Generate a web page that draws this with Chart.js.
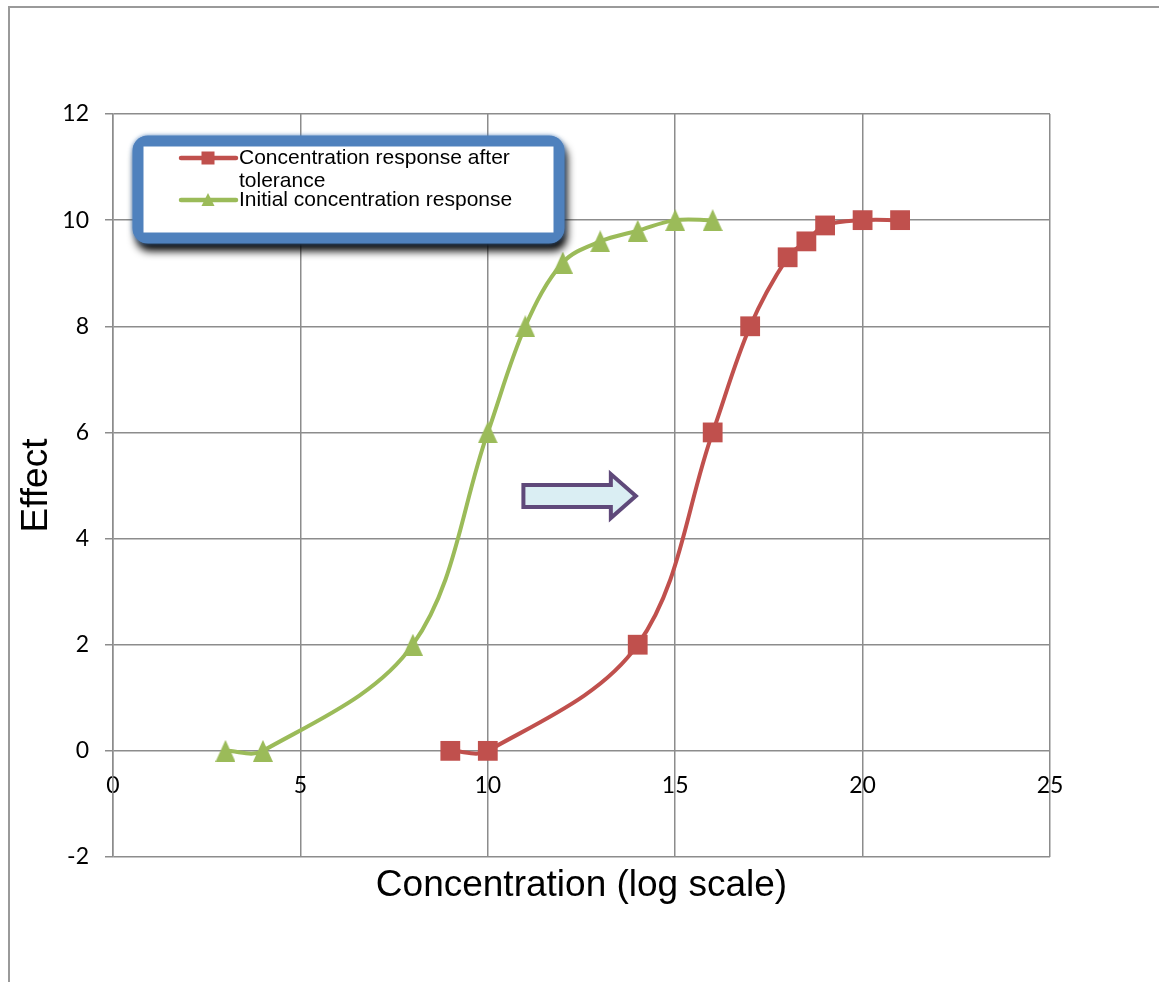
<!DOCTYPE html>
<html>
<head>
<meta charset="utf-8">
<script src="https://cdn.jsdelivr.net/npm/chart.js@4.4.1/dist/chart.umd.min.js"></script>
<style>
  body { margin: 0; background: #fff; }
  canvas { display: block; }
</style>
</head>
<body>
<canvas id="chart" width="1159" height="982"></canvas>
<script>
const seriesLabels = ["Concentration response after tolerance", "Initial concentration response"];
const seriesColors = ["#C0504D", "#9BBB59"];

// after tolerance (red squares)
const afterX = [9, 10, 14, 16, 17, 18, 18.5, 19, 20, 21];
const afterY = [0, 0, 2, 6, 8, 9.3, 9.6, 9.9, 10, 10];

// initial response (green triangles)
const initialX = [3, 4, 8, 10, 11, 12, 13, 14, 15, 16];
const initialY = [0, 0, 2, 6, 8, 9.2, 9.6, 9.8, 10, 10];

const xTicks = [0, 5, 10, 15, 20, 25];
const yTicks = [-2, 0, 2, 4, 6, 8, 10, 12];

// shift arrow (data coords)
const arrowFrom = [10.95, 4.8];
const arrowTo = [13.95, 4.8];

const gridColor = "#8c8c8c";
const tickFont = { family: "Lato", size: 23 };

function toPoints(xs, ys) {
  return xs.map((x, i) => ({ x: x, y: ys[i] }));
}

// excel style triangle marker (box centred)
function triangleMarker(w, h, color) {
  const c = document.createElement("canvas");
  c.width = w;
  c.height = h;
  const g = c.getContext("2d");
  g.fillStyle = color;
  g.beginPath();
  g.moveTo(w / 2, 0);
  g.lineTo(w, h);
  g.lineTo(0, h);
  g.closePath();
  g.fill();
  return c;
}

const extras = {
  id: "extras",
  beforeDraw(chart) {
    const ctx = chart.ctx;
    ctx.save();
    ctx.fillStyle = "#fff";
    ctx.fillRect(0, 0, chart.width, chart.height);
    // outer chart frame
    ctx.strokeStyle = "#9a9a9a";
    ctx.lineWidth = 2;
    ctx.beginPath();
    ctx.moveTo(9, chart.height + 2);
    ctx.lineTo(9, 7);
    ctx.lineTo(chart.width + 2, 7);
    ctx.stroke();
    ctx.restore();
  },
  afterDraw(chart) {
    const ctx = chart.ctx;
    const area = chart.chartArea;
    const xs = chart.scales.x, ys = chart.scales.y;
    ctx.save();

    // axis titles
    ctx.fillStyle = "#000";
    ctx.font = "37px 'Liberation Sans', Arial, sans-serif";
    ctx.textAlign = "center";
    ctx.textBaseline = "middle";
    ctx.fillText("Concentration (log scale)", (area.left + area.right) / 2, 886);
    ctx.save();
    ctx.translate(37, (area.top + area.bottom) / 2);
    ctx.rotate(-Math.PI / 2);
    ctx.fillText("Effect", 0, 0);
    ctx.restore();

    // arrow
    const x0 = xs.getPixelForValue(arrowFrom[0]);
    const x1 = xs.getPixelForValue(arrowTo[0]);
    const yc = ys.getPixelForValue(arrowFrom[1]);
    const headLen = 25, shaftH = 11, headH = 22;
    ctx.beginPath();
    ctx.moveTo(x0, yc - shaftH);
    ctx.lineTo(x1 - headLen, yc - shaftH);
    ctx.lineTo(x1 - headLen, yc - headH);
    ctx.lineTo(x1, yc);
    ctx.lineTo(x1 - headLen, yc + headH);
    ctx.lineTo(x1 - headLen, yc + shaftH);
    ctx.lineTo(x0, yc + shaftH);
    ctx.closePath();
    ctx.fillStyle = "#DAEEF3";
    ctx.fill();
    ctx.strokeStyle = "#5F497A";
    ctx.lineWidth = 4;
    ctx.lineJoin = "miter";
    ctx.stroke();

    // legend box
    const bx = area.left + 25, by = area.top + 27, bw = 421, bh = 97;
    ctx.save();
    ctx.shadowColor = "rgba(0,0,0,1)";
    ctx.shadowBlur = 9;
    ctx.shadowOffsetX = 3;
    ctx.shadowOffsetY = 8;
    ctx.beginPath();
    ctx.roundRect(bx - 5, by - 5, bw + 10, bh + 10, 14);
    ctx.fillStyle = "#4F81BD";
    ctx.fill();
    ctx.restore();
    ctx.save();
    ctx.shadowColor = "rgba(79,129,189,0.9)";
    ctx.shadowBlur = 4;
    ctx.beginPath();
    ctx.roundRect(bx, by, bw, bh, 10);
    ctx.strokeStyle = "#4F81BD";
    ctx.lineWidth = 11;
    ctx.stroke();
    ctx.restore();
    ctx.fillStyle = "#fff";
    ctx.fillRect(bx + 5.5, by + 5.5, bw - 11, bh - 11);

    ctx.font = "21px 'Liberation Sans', Arial, sans-serif";
    ctx.textAlign = "left";
    ctx.textBaseline = "middle";
    const rows = [
      { lines: ["Concentration response after", "tolerance"], y: by + 17 },
      { lines: ["Initial concentration response"], y: by + 59 }
    ];
    rows.forEach((row, i) => {
      const color = seriesColors[i];
      const mx = area.left + 95;
      ctx.strokeStyle = color;
      ctx.lineWidth = 4.5;
      ctx.lineCap = "round";
      ctx.beginPath();
      ctx.moveTo(area.left + 68, row.y);
      ctx.lineTo(area.left + 123, row.y);
      ctx.stroke();
      ctx.fillStyle = color;
      if (i === 0) {
        ctx.fillRect(mx - 6.5, row.y - 6.5, 13, 13);
      } else {
        ctx.beginPath();
        ctx.moveTo(mx, row.y - 7);
        ctx.lineTo(mx + 6.5, row.y + 6);
        ctx.lineTo(mx - 6.5, row.y + 6);
        ctx.closePath();
        ctx.fill();
      }
      ctx.fillStyle = "#000";
      row.lines.forEach((t, j) => ctx.fillText(t, area.left + 126, row.y + j * 23));
    });
    ctx.restore();
  }
};

const ctx = document.getElementById("chart").getContext("2d");
new Chart(ctx, {
  type: "scatter",
  data: {
    datasets: [
      {
        label: seriesLabels[0],
        data: toPoints(afterX, afterY),
        showLine: true,
        borderColor: seriesColors[0],
        backgroundColor: seriesColors[0],
        borderWidth: 4,
        tension: 0.35,
        pointStyle: "rect",
        pointRadius: 14,
        pointHoverRadius: 14,
        pointBorderWidth: 0
      },
      {
        label: seriesLabels[1],
        data: toPoints(initialX, initialY),
        showLine: true,
        borderColor: seriesColors[1],
        backgroundColor: seriesColors[1],
        borderWidth: 4,
        tension: 0.35,
        pointStyle: triangleMarker(20, 22, seriesColors[1]),
        pointRadius: 11,
        pointHoverRadius: 11,
        pointBorderWidth: 0
      }
    ]
  },
  options: {
    responsive: false,
    animation: false,
    events: [],
    layout: { padding: { top: 114, right: 109, bottom: 125, left: 0 } },
    plugins: { legend: { display: false }, tooltip: { enabled: false } },
    scales: {
      x: {
        type: "linear",
        axis: "x",
        position: { y: 0 },
        min: xTicks[0],
        max: xTicks[xTicks.length - 1],
        afterBuildTicks: (s) => { s.ticks = xTicks.map((v) => ({ value: v })); },
        ticks: { color: "#000", font: tickFont, padding: 21, maxRotation: 0 },
        grid: { color: gridColor, lineWidth: 1.5, drawTicks: false },
        border: { display: false }
      },
      y: {
        type: "linear",
        min: yTicks[0],
        max: yTicks[yTicks.length - 1],
        afterBuildTicks: (s) => { s.ticks = yTicks.map((v) => ({ value: v })); },
        afterFit: (s) => { s.width = 113; },
        ticks: { color: "#000", font: tickFont, padding: 16 },
        grid: { color: gridColor, lineWidth: 1.5, tickLength: 8 },
        border: { color: gridColor, width: 1.5 }
      }
    }
  },
  plugins: [extras]
});
</script>
</body>
</html>
